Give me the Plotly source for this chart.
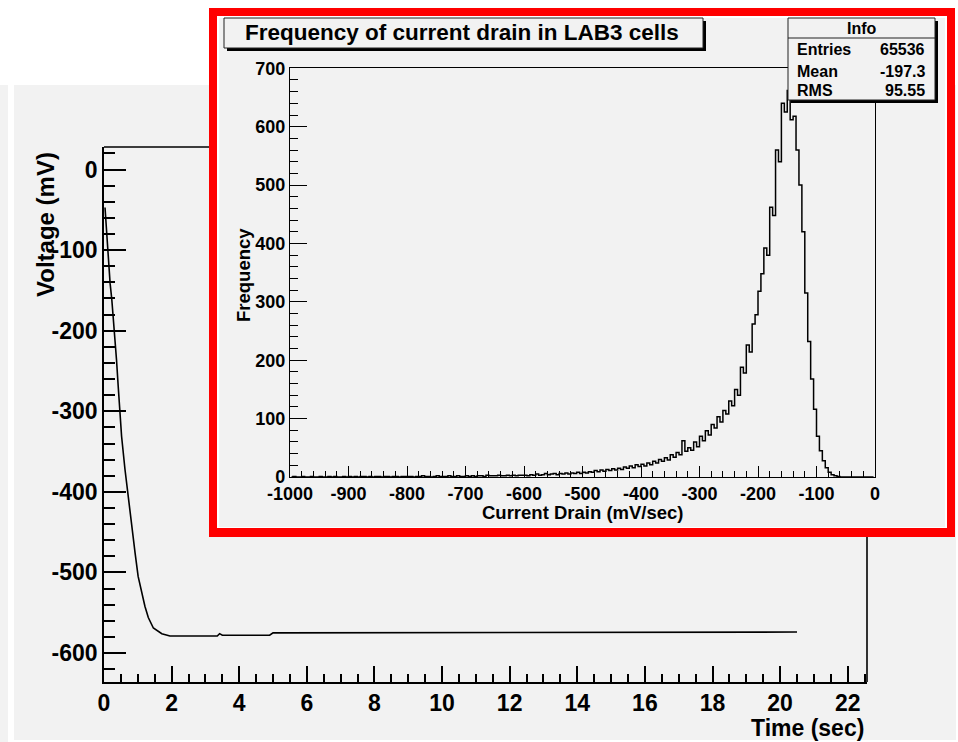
import plotly.graph_objects as go
import numpy as np

W, H = 958, 742

# ---------------- data: voltage vs time (background chart) ----------------
time_s = [0.03, 0.08, 0.13, 0.18, 0.23, 0.28, 0.33, 0.37, 0.42, 0.47, 0.52,
          0.62, 0.72, 0.82, 0.92, 1.01, 1.11, 1.21, 1.31, 1.46, 1.71, 1.95,
          3.35, 3.42, 3.5, 4.9, 5.0, 20.5]
voltage_mv = [-47, -78, -120, -141, -161, -186, -211, -236, -269, -302, -331,
              -372, -409, -443, -476, -505, -525, -542, -556, -569, -576, -579,
              -579, -576, -578, -578, -575, -574]
time_ticks = [0, 2, 4, 6, 8, 10, 12, 14, 16, 18, 20, 22]
voltage_ticks = [-600, -500, -400, -300, -200, -100, 0]

# ---------------- data: histogram of current drain (inset) ----------------
drain_bin_width = 5
drain_bin_centers = list(np.arange(-997.5, 0, drain_bin_width))
frequency = [
    # -1000 .. -900
    0, 1, 0, 0, 1, 0, 0, 1, 0, 0, 1, 0, 0, 1, 0, 1, 0, 0, 1, 0,
    # -900 .. -800
    1, 0, 1, 0, 1, 1, 0, 1, 0, 1, 1, 0, 1, 1, 0, 1, 1, 0, 1, 1,
    # -800 .. -700
    1, 1, 0, 1, 1, 2, 1, 1, 0, 1, 2, 1, 1, 1, 2, 1, 1, 2, 1, 1,
    # -700 .. -600
    2, 1, 2, 1, 2, 2, 1, 3, 2, 2, 2, 3, 2, 2, 3, 2, 3, 2, 3, 3,
    # -600 .. -500
    3, 2, 4, 3, 5, 3, 4, 6, 4, 5, 6, 4, 6, 5, 7, 5, 7, 6, 8, 6,
    # -500 .. -400
    8, 7, 9, 8, 11, 9, 12, 10, 13, 11, 14, 12, 15, 13, 17, 15, 19, 16, 21, 18,
    # -400 .. -300
    22, 19, 24, 21, 27, 24, 30, 27, 33, 29, 38, 34, 42, 38, 62, 44, 50, 46, 60, 52,
    # -300 .. -200
    70, 62, 79, 72, 90, 84, 103, 94, 114, 108, 130, 122, 150, 140, 188, 178, 226, 214, 262, 278,
    # -200 .. -100
    318, 348, 392, 380, 462, 448, 560, 540, 640, 625, 662, 612, 618, 560, 500, 420, 315, 232, 168, 116,
    # -100 .. 0
    70, 45, 28, 16, 8, 4, 2, 1, 0, 0, 0, 0, 0, 0, 0, 0, 0, 0, 0, 0,
]
drain_ticks = [-1000, -900, -800, -700, -600, -500, -400, -300, -200, -100, 0]
frequency_ticks = [0, 100, 200, 300, 400, 500, 600, 700]

stats_labels = ["Entries", "Mean", "RMS"]
stats_values = ["65536", "-197.3", "95.55"]

inset_title = "Frequency of current drain in LAB3 cells"

# ---------------- helpers (pixel -> paper) ----------------
def px(x):
    return x / W


def py(y):
    return 1 - y / H


FONT = "Liberation Sans, Arial, Helvetica, sans-serif"


def bfont(size):
    return dict(family=FONT, size=size, color="black", weight="bold")


fig = go.Figure()

fig.add_trace(go.Scatter(
    x=time_s, y=voltage_mv, mode="lines",
    line=dict(color="black", width=1.6),
    xaxis="x", yaxis="y", showlegend=False, hoverinfo="skip"))

fig.add_trace(go.Scatter(
    x=drain_bin_centers, y=frequency, mode="lines",
    line=dict(color="black", width=1.5, shape="hvh"),
    xaxis="x2", yaxis="y2", showlegend=False, hoverinfo="skip"))


def axis(domain, rng, tickvals, minor_dtick, ticklen, minor_len, fsize, anchor,
         mirror=False, lw=1.6):
    return dict(
        domain=domain, range=rng, anchor=anchor, automargin=False,
        showline=True, linecolor="black", linewidth=lw, mirror=mirror,
        ticks="inside", ticklen=ticklen, tickwidth=lw, tickcolor="black",
        tickmode="array", tickvals=tickvals,
        ticktext=[str(v) for v in tickvals],
        minor=dict(tick0=0, dtick=minor_dtick, ticks="inside", ticklen=minor_len,
                   tickwidth=lw, tickcolor="black", showgrid=False),
        showgrid=False, zeroline=False, tickfont=bfont(fsize),
        fixedrange=True,
    )


shapes = []


def rect(x0, y0, x1, y1, fill, line_color=None, lw=0, layer="below"):
    shapes.append(dict(
        type="rect", xref="paper", yref="paper",
        x0=px(x0), x1=px(x1), y0=py(y1), y1=py(y0),
        fillcolor=fill,
        line=dict(color=line_color or fill, width=lw),
        layer=layer))


def line(x0, y0, x1, y1, color="black", lw=1.6, layer="below"):
    shapes.append(dict(
        type="line", xref="paper", yref="paper",
        x0=px(x0), x1=px(x1), y0=py(y0), y1=py(y1),
        line=dict(color=color, width=lw), layer=layer))


GRAY = "#f2f2f2"
# canvas panels
rect(0, 85, 8, 742, GRAY)
rect(14, 85, 956, 740, GRAY)
# partial frame of the background plot (rest hidden by the inset)
line(104, 147, 209, 147)
line(867, 537, 867, 682)
# inset red frame
rect(209, 8, 955, 537, "#ff0000")
rect(217, 16, 947, 528, "#ffffff")
rect(219, 18, 945, 527, GRAY)

# title box with shadow
rect(227, 21, 706, 51, "#000000", layer="above")
rect(224, 18, 703, 48, GRAY, "#222222", 1, layer="above")
# stats box with shadow
rect(791, 21, 938, 103, "#000000", layer="above")
rect(788, 18, 935, 100, GRAY, "#222222", 1, layer="above")
line(788, 38, 935, 38, color="#222222", lw=1, layer="above")

annotations = []


def text(x, y, s, size, xanchor="center", yanchor="middle", angle=0):
    annotations.append(dict(
        x=px(x), y=py(y), xref="paper", yref="paper", text=s,
        showarrow=False, font=bfont(size), xanchor=xanchor, yanchor=yanchor,
        textangle=angle))


text(462, 33, inset_title, 22.5)
text(862, 29, "Info", 16)
row_y = [50, 71, 90]
for lab, val, yy in zip(stats_labels, stats_values, row_y):
    text(795, yy, lab, 16, xanchor="left")
    text(927, yy, val, 16, xanchor="right")

text(583, 512, "Current Drain (mV/sec)", 18.5)
text(243, 275, "Frequency", 18.5, angle=-90)
text(866, 728, "Time (sec)", 23, xanchor="right")
text(45, 225, "Voltage (mV)", 24, angle=-90)

fig.update_layout(
    width=W, height=H, autosize=False,
    margin=dict(l=0, r=0, t=0, b=0, pad=0),
    paper_bgcolor="white", plot_bgcolor="rgba(0,0,0,0)",
    showlegend=False,
    xaxis=axis([px(104), px(867)], [0, 22.57], time_ticks, 0.5, 16, 8, 23, "y"),
    yaxis=axis([py(682), py(147)], [-636, 28], voltage_ticks, 20, 22, 11, 23, "x"),
    xaxis2=axis([px(290), px(875)], [-1000, 0], drain_ticks, 20, 11, 6, 18, "y2",
                mirror=True, lw=1.3),
    yaxis2=axis([py(477), py(68)], [0, 700.5], frequency_ticks, 20, 17, 8, 18, "x2",
                mirror=True, lw=1.3),
    shapes=shapes,
    annotations=annotations,
)

fig.write_html("out.html")
